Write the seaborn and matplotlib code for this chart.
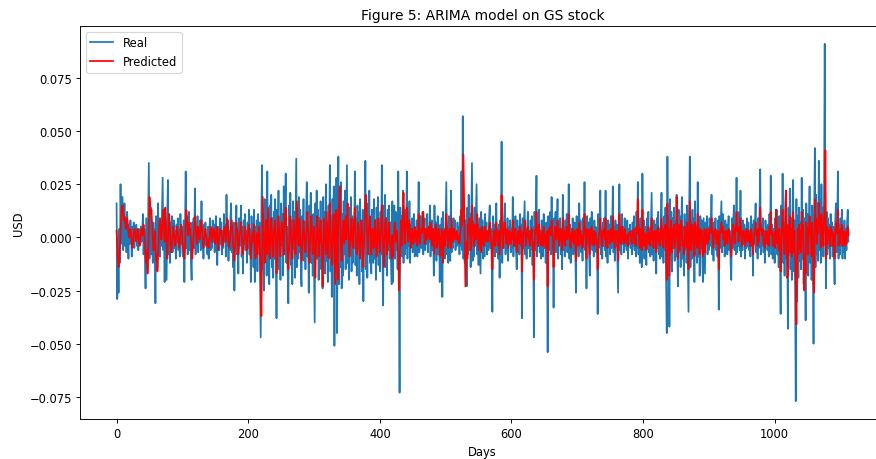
import matplotlib
matplotlib.use("Agg")
import matplotlib.pyplot as plt
import seaborn as sns
import numpy as np

# Daily values, in thousandths of a USD (x 0.001)
real_milli = [
    16,-29,-5,-26,4,-12,25,-3,8,19,-6,2,16,-4,9,-7,12,3,-10,6,
    -3,8,1,-9,5,-2,7,-5,3,0,6,-4,2,-6,4,1,-3,5,-2,3,
    11,-8,4,-6,-24,9,-4,-15,12,35,-10,6,14,-8,3,-12,7,-5,4,-31,
    10,-7,-14,16,-3,5,-9,8,-4,12,28,-6,3,-21,9,-5,-20,11,27,-8,
    4,-12,7,-3,10,-7,2,8,-5,3,-10,6,-2,9,-6,4,-9,11,-3,5,
    -7,-9,8,-21,6,31,-5,10,-8,3,12,-6,4,-11,-20,7,-3,9,-5,23,
    -8,5,-4,10,-7,3,-2,8,-6,17,-5,2,-10,6,-3,7,-4,1,-8,5,
    -10,4,9,-6,3,-5,8,-2,6,-7,4,10,-4,-13,5,2,-6,9,-3,7,
    -8,3,-5,11,-2,6,-9,20,-4,8,-11,3,-6,9,16,-7,4,-14,7,-25,
    6,-3,15,-8,4,-17,9,-4,2,15,-9,5,-17,8,-3,11,-6,3,-12,7,
    -5,13,-8,4,-21,10,-3,6,-14,13,-21,5,-9,8,-16,11,-4,7,-20,-47,
    12,34,-15,9,-25,18,-8,14,-18,31,-12,6,-22,15,-6,20,-14,9,-19,12,
    -10,18,-6,-38,13,-9,22,-15,7,-20,16,-4,11,-18,24,-8,14,30,-12,5,
    -17,-31,15,-6,21,-13,8,-22,17,-5,12,-19,9,37,-14,6,-10,19,-7,13,
    -16,-23,10,-4,18,-11,7,-15,12,26,-9,4,-26,15,-7,21,-12,8,-18,11,
    -14,-40,16,-6,22,-10,13,-20,9,-4,17,-15,6,-24,19,-8,12,-17,25,-11,
    7,-21,15,-9,34,-16,10,-28,18,-12,24,-51,16,-19,28,-45,12,38,-22,20,
    -14,26,-24,11,-18,17,-8,22,-15,9,34,-12,6,-20,14,-7,19,-16,10,-12,
    8,-5,31,-13,9,-18,15,-6,12,-22,18,-9,7,-16,13,-30,10,-4,36,-15,
    11,-19,16,-7,22,-12,5,-17,13,-6,-12,18,-10,8,-20,14,-5,19,-13,7,
    -16,12,-8,34,-11,-32,15,-4,20,-14,9,-18,13,-6,15,-10,7,-12,-22,17,
    -21,8,15,-10,12,-6,9,-15,31,-8,-73,14,-6,10,-9,22,-12,5,-8,13,
    -5,31,-10,12,-4,17,-12,6,-3,9,-7,4,11,-9,2,-6,8,-9,5,26,
    -7,3,10,-5,6,12,-8,2,9,-6,4,-3,11,-7,5,-2,15,-9,3,8,
    -6,4,-18,15,-5,7,-11,3,10,-8,5,-21,6,-4,9,-28,12,-6,4,-10,
    7,26,-8,5,-12,10,-3,-11,22,-7,4,-5,9,-2,8,-6,3,-4,7,-3,
    5,-8,10,-4,31,-6,57,-10,18,-12,8,-5,-23,14,-8,20,-6,11,-14,9,
    35,-11,7,-9,14,-4,10,25,-8,6,-13,9,-5,-17,12,-3,8,-10,5,-9,
    11,-4,7,-8,3,-6,9,15,-5,4,-12,-35,10,-3,6,-9,8,16,-7,4,
    -10,6,-19,8,-3,45,-12,7,-5,10,16,-8,3,-6,9,-11,5,-3,8,-7,
    4,-5,19,-9,6,-4,10,-6,-15,8,-3,5,-8,11,-4,6,-38,9,-5,7,
    17,-8,4,-10,6,12,-5,3,-9,8,-4,10,-13,5,-47,12,-6,8,29,-9,
    6,-4,13,-7,3,-10,8,-3,-9,11,-5,4,-12,7,-3,-54,10,-6,5,12,
    -8,19,-5,7,-33,9,-4,12,-7,3,18,-10,6,-3,9,-8,4,-15,20,-6,
    5,-9,8,-4,11,-7,3,25,-10,6,-12,4,-5,9,-8,3,7,-6,-26,10,
    -4,6,-9,16,-5,8,-7,3,-11,9,-4,26,-6,5,-24,10,-3,7,-8,-18,
    9,-4,12,-6,3,-9,8,-2,5,-7,4,-36,11,-5,6,22,-8,3,-10,7,
    -4,9,-6,22,-9,4,-12,8,-3,6,-8,10,-5,3,24,-7,5,-11,8,-4,
    6,-9,-26,9,25,-6,4,-8,11,-3,5,-7,9,-4,3,-6,8,-10,4,-3,
    6,-5,3,-8,7,-4,10,-6,4,-9,12,-5,26,-8,6,-12,9,-4,-14,30,
    -6,8,-10,5,-3,-13,9,-5,12,-7,4,-9,7,21,-8,5,-11,8,-4,6,
    -17,9,-5,12,-8,4,-10,7,21,-9,5,-12,10,-6,14,-20,-45,38,-15,10,
    -42,18,-8,12,-16,9,-5,14,-11,7,-9,20,-6,-23,13,-7,10,-14,6,19,
    -10,5,-18,11,-6,8,-12,15,-9,-35,12,38,-14,7,-10,13,-6,9,-21,17,
    -8,5,-12,26,-9,6,-18,10,-5,8,-11,-21,9,-4,-17,7,-3,10,-8,5,
    -6,9,-4,6,20,-8,4,-11,7,-3,9,-6,3,-9,8,-34,10,-5,6,17,
    -7,11,-4,5,-9,8,-3,6,-8,4,10,-6,3,-12,-20,9,-5,7,15,-6,
    4,-8,28,-7,9,-4,12,-6,22,-9,5,-6,8,-3,6,-10,4,-5,9,-4,
    7,-6,3,-9,10,-4,6,-18,8,-3,5,16,-7,4,-10,9,-5,12,32,-8,
    6,-4,9,-7,3,-12,8,-3,5,-6,6,-9,11,-5,29,-8,6,-10,4,-3,
    -12,9,-5,13,-8,4,-14,10,-6,-36,15,-9,30,-12,7,-18,12,22,-10,5,
    -43,14,-8,23,-15,9,-20,12,27,-16,8,-25,-77,18,-30,10,-19,14,-11,7,
    -15,28,-10,13,-22,9,-6,-39,16,-8,11,-18,6,24,-12,8,-20,15,-9,-50,
    12,42,-14,20,-8,16,-11,36,-6,18,-12,25,-4,14,-9,20,91,6,-24,12,
    -8,9,-5,6,-10,11,-4,7,-9,5,-6,-22,8,16,-7,4,31,-10,6,-8,
    9,-4,13,-10,5,-7,8,-10,4,-6,7,13,-2,
]

pred_milli = [
    3,-4,-10,-14,-11,-5,2,9,14,15,12,8,10,7,4,6,9,6,2,0,
    2,4,1,-3,-5,-2,2,4,3,0,-2,1,4,2,-2,-4,-1,2,4,1,
    3,6,2,-4,-9,-12,-6,-17,-8,4,19,14,11,13,6,-1,-6,-3,3,-6,
    -11,-8,-16,-9,-2,6,9,4,-1,3,8,13,7,-2,14,6,-4,-10,-2,8,
    11,4,-3,-7,-4,1,5,2,-1,-4,-2,3,5,2,-2,-5,-3,2,6,3,
    -1,-5,-7,-10,-4,6,13,9,4,1,5,7,3,-1,-6,-10,-5,1,4,10,
    6,1,-3,2,5,3,-1,2,6,8,4,-2,-5,-2,2,4,1,-1,-4,-1,
    -5,-2,3,5,2,-2,1,4,3,-1,-3,2,5,1,-6,-3,1,4,2,3,
    -1,-4,-2,3,5,3,-2,4,9,5,-1,-5,-2,2,5,8,3,-4,-6,-11,
    -5,1,7,4,-1,-8,-4,2,3,7,2,-3,-8,-4,1,5,2,-2,-6,-1,
    3,6,2,-3,-10,-5,1,3,-2,6,-4,-10,-5,2,-8,-2,5,3,-9,-20,
    -37,-12,19,8,-4,-12,-3,8,-2,-8,14,5,-4,-10,1,9,3,-6,-9,2,
    6,8,-1,-17,-8,4,10,3,-6,-9,2,7,5,-3,-8,11,6,14,4,-2,
    -8,-15,-6,5,10,2,-5,-10,-1,8,5,-3,-8,4,17,7,-3,-4,9,3,
    -4,-11,-6,3,8,2,-4,-7,1,5,12,4,-3,-12,-2,6,10,1,-8,-2,
    5,-6,-19,-5,6,10,2,-9,-4,4,8,-1,-6,-23,-7,9,3,-4,-8,12,
    4,-4,-10,7,16,3,-6,-13,-2,8,11,-7,-22,-5,13,-9,-20,5,17,24,
    9,-6,-11,-2,5,8,-3,3,10,-1,6,16,5,-4,-9,-2,6,9,-2,-5,
    3,8,14,2,-6,-8,-2,7,5,-4,-10,-2,8,3,-7,-14,-4,6,17,20,
    9,-2,-8,2,7,10,1,-8,-3,4,-2,-5,3,8,-1,-9,-3,6,9,-2,
    -7,-2,5,15,6,-5,-14,-4,6,9,1,-8,-3,6,7,-1,-4,-5,-10,1,
    -9,-3,5,7,2,-2,3,-4,-7,-25,-14,-2,8,3,-4,12,21,8,-3,4,
    6,14,5,-2,3,8,2,-5,-1,4,1,-3,2,5,1,-2,3,-4,2,11,
    5,-3,1,4,2,5,12,4,-3,1,4,2,-1,3,5,1,-1,7,2,-4,
    1,4,-2,-8,2,6,1,-5,-2,4,2,-3,-9,-1,4,-2,-12,-3,3,-4,
    2,11,5,-1,-5,2,4,-1,-5,9,3,-2,1,4,2,-1,1,3,-1,-2,
    1,-3,2,4,13,6,24,39,18,-5,-23,-12,-2,-10,6,2,9,3,-6,1,
    15,7,-1,-4,6,3,-1,4,11,3,-6,-1,4,-2,-7,5,3,-1,-4,2,
    5,1,-2,3,1,-2,4,7,3,-2,-5,-15,-4,3,-1,-4,3,7,2,-3,
    -4,3,-8,-2,4,20,8,-5,1,4,7,3,-3,1,4,-5,-1,3,1,-3,
    2,-1,8,3,-4,1,4,-3,-7,-1,3,2,-3,5,1,3,-16,-5,2,3,
    8,2,-4,-1,3,5,1,-2,-4,3,1,4,-6,-2,-20,-6,4,2,12,3,
    -4,3,6,1,-3,-4,1,3,-4,5,2,-2,-5,1,3,-23,-8,4,2,5,
    1,8,3,-2,-14,-3,4,5,-1,1,8,3,-4,-1,4,2,-2,-6,9,3,
    -1,-4,3,1,5,-1,3,11,2,-4,-5,2,-2,4,1,-3,3,-1,-11,-2,
    4,3,-4,7,2,3,-3,1,-5,-1,4,11,3,-2,-10,4,2,3,-3,-8,
    4,1,5,-3,1,-4,3,1,2,-3,-1,-15,-3,2,3,9,2,-3,-4,3,
    1,4,-1,9,-4,-1,-5,3,1,3,-3,4,1,-2,10,3,-1,-5,3,1,
    3,-4,-11,-2,11,5,-3,-1,5,2,-1,-3,4,2,-1,-3,1,-4,2,1,
    3,1,-2,-3,3,1,4,-3,-1,-4,5,2,18,6,-3,-5,4,1,-6,13,
    4,-3,-4,2,1,-6,-2,4,5,-3,2,-4,3,9,1,-3,-5,3,1,3,
    -7,1,4,5,-3,2,-4,3,9,2,-4,-5,4,1,6,-9,-20,16,-6,4,
    -18,-5,8,5,-7,4,1,6,-5,-1,3,19,4,-10,6,2,-6,3,8,3,
    -4,-2,-8,5,2,3,-5,7,-4,-15,-3,17,5,-6,-4,6,2,4,-9,7,
    3,-3,-5,11,4,-4,-8,4,1,3,-5,-9,-2,4,-7,-1,3,4,-3,2,
    -1,4,2,3,9,3,-2,-5,3,1,4,-1,-3,1,3,-15,-4,3,5,7,
    2,5,-1,2,-4,3,1,3,-3,1,4,2,-1,-5,-9,-2,3,6,4,-3,
    2,5,12,3,4,-2,5,1,9,2,-4,-3,3,1,3,-4,-1,2,4,-2,
    3,1,-1,-4,4,2,-2,-8,-3,2,4,7,1,2,-4,4,-2,5,14,4,
    3,1,4,-3,-1,-5,3,2,1,-3,3,-4,5,2,12,1,3,-4,2,-1,
    -5,3,13,6,-3,2,-6,4,-3,-16,-4,7,13,5,-3,-8,5,22,4,-19,
    -18,6,3,10,-7,4,-9,5,12,-7,3,-11,-20,-41,-12,4,-8,6,-5,3,
    -7,12,4,6,-10,-25,-8,-17,7,-3,5,-8,3,10,1,3,-9,7,-4,-22,
    -26,18,6,9,-3,7,2,16,5,8,-5,11,3,6,-4,9,15,41,-10,5,
    -3,4,2,3,-4,5,1,3,-4,2,-3,-10,3,7,2,2,13,-4,3,-3,
    4,1,6,-4,2,-3,3,-4,2,-3,3,5,1,
]

real = np.array(real_milli) * 0.001
pred = np.array(pred_milli) * 0.001
days_real = np.arange(len(real))
days_pred = np.arange(len(pred))

W, H, DPI = 876, 460, 83
fig = plt.figure(figsize=(W / DPI, H / DPI), dpi=DPI)
ax = fig.add_axes([80 / W, 40 / H, 805 / W, 393 / H])

sns.lineplot(x=days_real, y=real, ax=ax, color="#1f77b4", label="Real", linewidth=1.5)
sns.lineplot(x=days_pred, y=pred, ax=ax, color="red", label="Predicted", linewidth=1.5)

ax.set_title("Figure 5: ARIMA model on GS stock")
ax.set_xlabel("Days")
ax.set_ylabel("USD")
ax.legend(loc="upper left")

fig.savefig("out.png", dpi=DPI)
